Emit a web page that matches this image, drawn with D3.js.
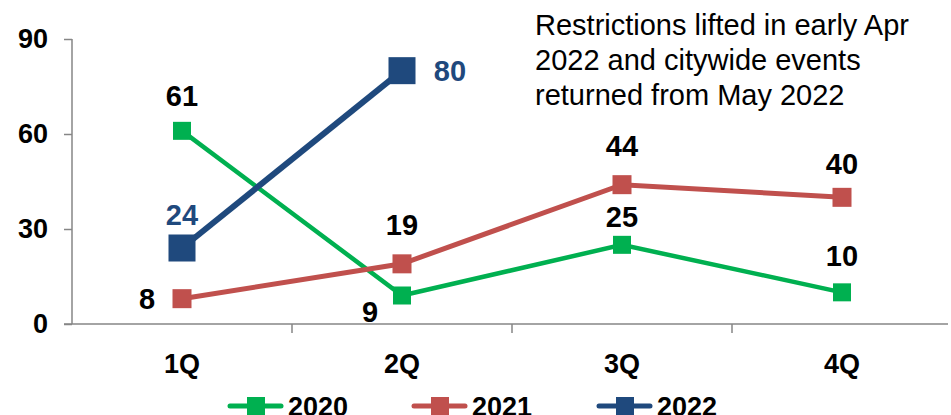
<!DOCTYPE html>
<html>
<head>
<meta charset="utf-8">
<script src="https://cdn.jsdelivr.net/npm/d3@7"></script>
<style>
  body { margin: 0; background: #fff; }
  svg { font-family: "Liberation Sans", Arial, sans-serif; }
</style>
</head>
<body>
<div id="chart"></div>
<script>
// data
var quarters = ["1Q", "2Q", "3Q", "4Q"];
var yTicks = [0, 30, 60, 90];
var years = ["2020", "2021", "2022"];
var values2020 = [61, 9, 25, 10];
var values2021 = [8, 19, 44, 40];
var values2022 = [24, 80];
var note = ["Restrictions lifted in early Apr", "2022 and citywide events", "returned from May 2022"];

var series = [
    { name: "2020", values: values2020, color: "#00B050", size: 18, width: 4.5 },
    { name: "2021", values: values2021, color: "#C0504D", size: 19, width: 5 },
    { name: "2022", values: values2022, color: "#1F497D", size: 27, width: 6 }
];

// where each value label goes, relative to its point
var labelPos = {
    "2020": [[0, -35], [-32, 16], [0, -28], [0, -37]],
    "2021": [[-35, 0], [0, -39], [0, -39], [0, -34]],
    "2022": [[0, -33], [48, 0]]
};

var W = 951, H = 415;
var margin = { top: 39, right: 3, bottom: 91, left: 72 },
    width = W - margin.left - margin.right,
    height = H - margin.top - margin.bottom;

var svg = d3.select("#chart").append("svg")
    .attr("width", W).attr("height", H)
    .append("g")
    .attr("transform", "translate(" + margin.left + "," + margin.top + ")");

var x = d3.scaleBand().domain(quarters).range([0, 880]);
var y = d3.scaleLinear().domain([0, 90]).range([height, 0]);

// y axis
var yAxis = svg.append("g")
    .call(d3.axisLeft(y).tickValues(yTicks).tickSize(8).tickPadding(16));
yAxis.selectAll("path, line").attr("stroke", "#868686").attr("stroke-width", 1.5);
yAxis.select(".domain").attr("d", "M0,0V" + height);
yAxis.selectAll("text")
    .attr("fill", "#000")
    .style("font-size", "27px")
    .style("font-weight", "bold");

// x axis (ticks between categories)
var xg = svg.append("g").attr("transform", "translate(0," + height + ")");
xg.append("line")
    .attr("x1", -8).attr("x2", width)
    .attr("stroke", "#868686").attr("stroke-width", 1.5);
xg.selectAll(".xtick")
    .data(quarters)
    .enter().append("line")
    .attr("x1", function(d, i) { return x.step() * (i + 1); })
    .attr("x2", function(d, i) { return x.step() * (i + 1); })
    .attr("y1", 0).attr("y2", 9)
    .attr("stroke", "#868686").attr("stroke-width", 1.5);
xg.selectAll(".xlabel")
    .data(quarters)
    .enter().append("text")
    .attr("x", function(d) { return x(d) + x.bandwidth() / 2; })
    .attr("y", 49)
    .attr("text-anchor", "middle")
    .style("font-size", "27px")
    .style("font-weight", "bold")
    .text(function(d) { return d; });

var line = d3.line()
    .x(function(d, i) { return x(quarters[i]) + x.bandwidth() / 2; })
    .y(function(d) { return y(d); });

series.forEach(function(s) {
    var g = svg.append("g");
    g.append("path")
        .datum(s.values)
        .attr("d", line)
        .attr("fill", "none")
        .attr("stroke", s.color)
        .attr("stroke-width", s.width);
    g.selectAll("rect")
        .data(s.values)
        .enter().append("rect")
        .attr("x", function(d, i) { return x(quarters[i]) + x.bandwidth() / 2 - s.size / 2; })
        .attr("y", function(d) { return y(d) - s.size / 2; })
        .attr("width", s.size).attr("height", s.size)
        .attr("fill", s.color);
    g.selectAll("text")
        .data(s.values)
        .enter().append("text")
        .attr("x", function(d, i) { return x(quarters[i]) + x.bandwidth() / 2 + labelPos[s.name][i][0]; })
        .attr("y", function(d, i) { return y(d) + labelPos[s.name][i][1]; })
        .attr("dy", "0.36em")
        .attr("text-anchor", "middle")
        .attr("fill", s.name == "2022" ? s.color : "#000")
        .style("font-size", "29px")
        .style("font-weight", "bold")
        .text(function(d) { return d; });
});

// note
svg.append("text")
    .attr("x", 463).attr("y", -4)
    .style("font-size", "29px")
    .selectAll("tspan")
    .data(note)
    .enter().append("tspan")
    .attr("x", 463)
    .attr("dy", function(d, i) { return i == 0 ? 0 : 35; })
    .text(function(d) { return d; });

// legend
var legend = svg.append("g").attr("transform", "translate(0," + (H - margin.top - 9) + ")");
var legendX = [156, 340, 525];
series.forEach(function(s, i) {
    var lg = legend.append("g").attr("transform", "translate(" + legendX[i] + ",0)");
    lg.append("line")
        .attr("x1", 2).attr("x2", 53)
        .attr("stroke", s.color).attr("stroke-width", 5)
        .attr("stroke-linecap", "round");
    lg.append("rect")
        .attr("x", 19).attr("y", -9).attr("width", 18).attr("height", 18)
        .attr("fill", s.color);
    lg.append("text")
        .attr("x", 60).attr("dy", "0.36em")
        .style("font-size", "27px")
        .style("font-weight", "bold")
        .text(s.name);
});
</script>
</body>
</html>
